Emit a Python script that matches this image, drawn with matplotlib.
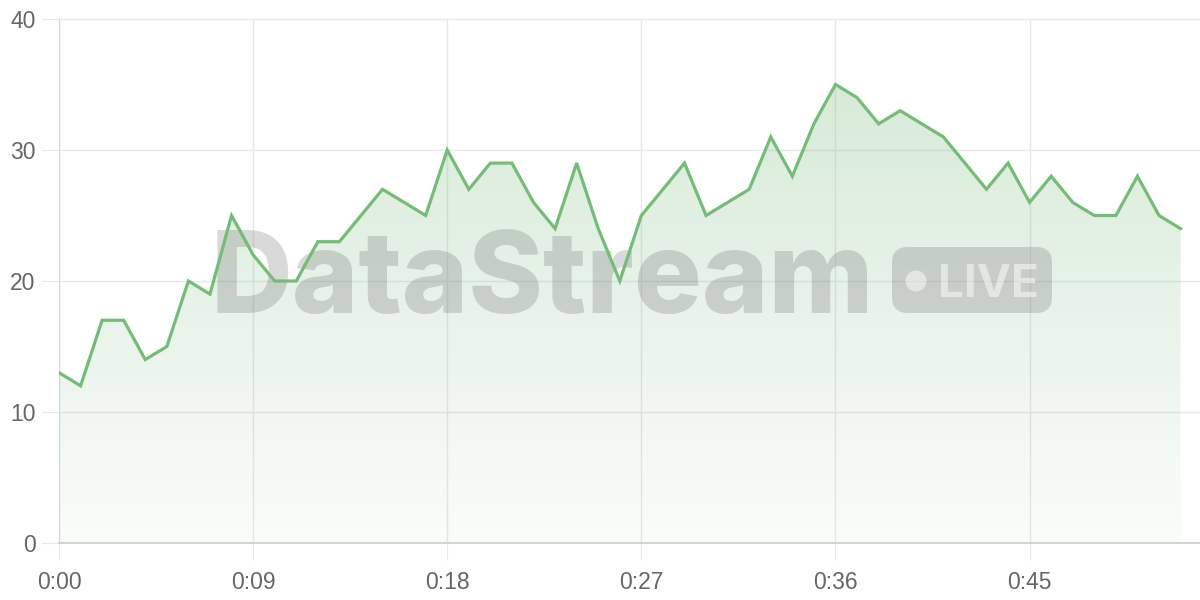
import numpy as np
import matplotlib
matplotlib.use("Agg")
import matplotlib.pyplot as plt
from matplotlib.patches import FancyBboxPatch, Circle
from matplotlib.colors import LinearSegmentedColormap
from matplotlib.transforms import IdentityTransform

seconds = list(range(53))
values = [13, 12, 17, 17, 14, 15, 20, 19, 25, 22, 20, 20, 23, 23, 25, 27, 26, 25,
          30, 27, 29, 29, 26, 24, 29, 24, 20, 25, 27, 29, 25, 26, 27, 31, 28, 32,
          35, 34, 32, 33, 32, 31, 29, 27, 29, 26, 28, 26, 25, 25, 28, 25, 24]
xtick_pos = [0, 9, 18, 27, 36, 45]
xtick_labels = ["0:00", "0:09", "0:18", "0:27", "0:36", "0:45"]
ytick_pos = [0, 10, 20, 30, 40]

LINE = "#77bb79"
H = 600

fig = plt.figure(figsize=(12, 6), dpi=100)
ax = fig.add_axes([59/1200, 1 - 543/600, (1200 - 59)/1200, (543 - 19)/600])
ax.set_xlim(0, 52.9)
ax.set_ylim(0, 40)

# gradient fill
fill = ax.fill_between(seconds, values, 0, color="none", lw=0)
cmap = LinearSegmentedColormap.from_list("g", [(0.47, 0.73, 0.48, 0.04), (0.47, 0.73, 0.48, 0.33)])
grad = np.linspace(0, 1, 256).reshape(-1, 1)
im = ax.imshow(grad, cmap=cmap, aspect="auto", extent=[0, 52, 0, 40], origin="lower", zorder=1)
im.set_clip_path(fill.get_paths()[0], transform=ax.transData)

ax.plot(seconds, values, color=LINE, lw=2.3, zorder=5, solid_joinstyle="miter")

# grid and axes
ax.set_xticks(xtick_pos)
ax.set_xticklabels(xtick_labels)
ax.set_yticks(ytick_pos)
ax.grid(True, color="#e8e8e8", lw=1, zorder=0)
ax.set_axisbelow(True)
for s in ["top", "right"]:
    ax.spines[s].set_visible(False)
ax.spines["left"].set_color("#d6d6d6")
ax.spines["bottom"].set_color("#cccccc")
ax.spines["bottom"].set_linewidth(1.2)
ax.tick_params(axis="x", length=12, color="#e8e8e8", labelsize=16.5, labelcolor="#666666", pad=8)
ax.tick_params(axis="y", length=12, color="#e8e8e8", labelsize=16.5, labelcolor="#666666", pad=5)
for lab in ax.get_xticklabels() + ax.get_yticklabels():
    lab.set_family("Liberation Sans")

# watermark (between fill and line)
wm_color = (0.45, 0.45, 0.45, 0.27)
ax.text(211, H - 313, "DataStream", fontsize=81.5, fontweight="heavy",
        family="Inter", color=wm_color, ha="left", va="baseline",
        transform=IdentityTransform(), zorder=3, clip_on=False)
pill = FancyBboxPatch((892, H - 313), 160, 66,
                      boxstyle="round,pad=0,rounding_size=16", transform=IdentityTransform(),
                      facecolor=wm_color, edgecolor="none", zorder=3, clip_on=False)
ax.add_patch(pill)
ax.add_patch(Circle((916, H - 281), 10.5, transform=IdentityTransform(),
                    facecolor=(1, 1, 1, 0.5), edgecolor="none", zorder=4, clip_on=False))
ax.text(938, H - 297, "LIVE", fontsize=33, fontweight="bold", family="Inter",
        color=(1, 1, 1, 0.5), ha="left", va="baseline",
        transform=IdentityTransform(), zorder=4, clip_on=False)

fig.savefig("out.png", dpi=100)
